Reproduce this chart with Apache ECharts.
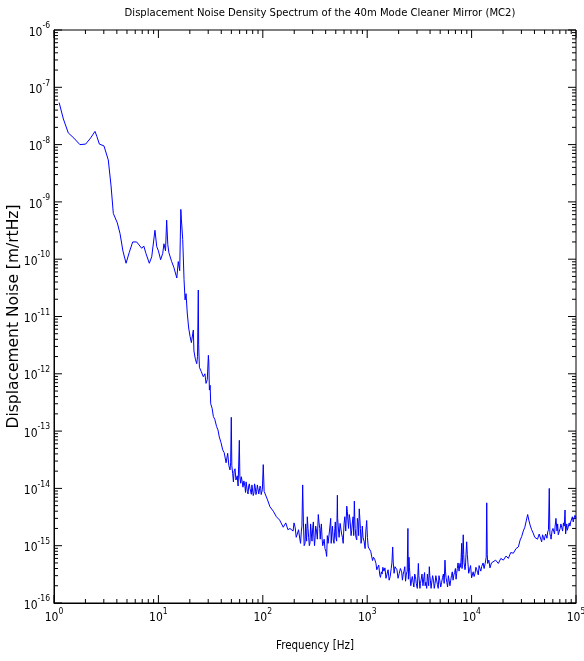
<!DOCTYPE html>
<html>
<head>
<meta charset="utf-8">
<script src="https://cdn.jsdelivr.net/npm/echarts@6/dist/echarts.min.js"></script>
<style>
  html, body { margin: 0; padding: 0; background: #fff; }
  #chart { width: 584px; height: 661px; }
</style>
</head>
<body>
<div id="chart"></div>
<script>
// 频率 (Hz) —— 主轮廓
const freqs = [
  1.12, 1.23, 1.37, 1.55, 1.77, 2.01, 2.24, 2.47, 2.57, 2.72,
  3.01, 3.31, 3.52, 3.70, 4.04, 4.29, 4.57, 4.90, 5.25, 5.67,
  6.19, 6.92, 7.24, 7.60, 8.18, 8.63, 9.27, 9.64, 10.0, 10.5,
  11.0, 11.3, 11.7, 12.0, 12.3, 12.6, 13.4, 14.1, 15.0, 15.5,
  16.0, 16.4, 16.6, 17.1, 17.6, 18.0, 18.4, 18.9, 19.5, 20.1,
  20.7, 21.6, 21.9, 22.6, 23.3, 23.7, 24.1, 24.3, 24.7, 25.7,
  26.9, 27.9, 28.6, 29.4, 30.1, 30.4, 30.8, 31.3, 31.7, 32.7,
  33.6, 34.7, 36.1, 37.2, 38.3, 39.8, 41.3, 42.7, 44.5, 46.1,
  47.3, 48.5, 49.2, 49.9, 50.5, 51.5, 53.1, 55.3, 56.9, 59.6,
  60.3, 61.4, 63.1, 64.6, 67.5, 69.2, 71.1, 73.3, 75.3, 77.6,
  79.8, 82.2, 84.7, 87.3, 90.2, 92.9, 95.5, 97.5, 101, 103,
  105, 111, 117, 126, 135, 145, 157, 166, 174, 182,
  195, 204, 214, 227, 234, 241, 245, 254, 260, 267,
  275, 283, 292, 301, 309, 316, 327, 340, 351, 359,
  370, 380, 394, 409, 422, 447, 457, 473, 490, 501,
  518, 525, 550, 569, 589, 610, 637, 653, 673, 692,
  711, 733, 753, 767, 794, 817, 839, 861, 885, 912,
  955, 989, 1023, 1059, 1104, 1148, 1213, 1259, 1318, 1365,
  1413, 1479, 1549, 1622, 1698, 1754, 1778, 1845, 1928, 2028,
  2138, 2213, 2291, 2371, 2455, 2512, 2570, 2661, 2754, 2851,
  2951, 3090, 3162, 3236, 3350, 3500, 3589, 3715, 3828, 3936,
  4027, 4150, 4315, 4467, 4624, 4786, 4955, 5164, 5370, 5559,
  5689, 5888, 6095, 6310, 6531, 6761, 6998, 7194, 7413, 7745,
  7943, 8035, 8166, 8318, 8472, 8650, 8810, 8974, 9226, 9550,
  10000, 10351, 10789, 11220, 11588, 12023, 12474, 12882, 13490, 13804,
  13964, 14125, 14256, 14622, 14997, 15488, 16144, 16982, 18030, 19055,
  20137, 21380, 22491, 23714, 25119, 26607, 28054, 29174, 30200, 31261,
  32359, 33497, 34435, 35318, 36308, 37584, 38905, 40272, 41976, 43652,
  45186, 46881, 48753, 50466, 51880, 53580, 55463, 56234, 57148, 58884,
  61518, 63096, 64269, 65766, 67608, 70469, 72946, 75858, 78524, 80353,
  82604, 86099, 88920, 92257, 95719, 100000
];

// 位移噪声 (m/rtHz) —— 主轮廓
const noise = [
  5.4e-8, 2.8e-8, 1.6e-8, 1.3e-8, 1.0e-8, 1.02e-8, 1.3e-8, 1.7e-8, 1.4e-8, 1.02e-8,
  9.5e-9, 5.4e-9, 1.9e-9, 6.3e-10, 4.3e-10, 2.8e-10, 1.4e-10, 8.5e-11, 1.3e-10, 2.0e-10,
  2.0e-10, 1.55e-10, 1.7e-10, 1.26e-10, 8.5e-11, 1.1e-10, 3.2e-10, 1.66e-10, 1.4e-10, 9.8e-11,
  1.26e-10, 1.86e-10, 1.4e-10, 4.8e-10, 1.8e-10, 1.3e-10, 9.1e-11, 7.1e-11, 4.7e-11, 9.1e-11,
  6.3e-11, 7.4e-10, 5.0e-10, 2.2e-10, 4.4e-11, 1.95e-11, 2.5e-11, 1.15e-11, 6.3e-12, 4.5e-12,
  3.5e-12, 5.8e-12, 2.5e-12, 1.8e-12, 1.5e-12, 2.0e-12, 2.9e-11, 3.2e-12, 1.3e-12, 1.1e-12,
  8.9e-13, 1.0e-12, 6.8e-13, 7.9e-13, 2.1e-12, 1.6e-12, 5.2e-13, 6.3e-13, 3.0e-13, 2.5e-13,
  1.8e-13, 1.6e-13, 1.2e-13, 1.05e-13, 7.9e-14, 6.3e-14, 4.7e-14, 4.2e-14, 2.8e-14, 4.1e-14,
  2.5e-14, 2.1e-14, 2.8e-14, 1.74e-13, 2.5e-14, 1.8e-14, 2.0e-14, 1.4e-14, 1.66e-14, 6.9e-14,
  1.6e-14, 1.23e-14, 1.4e-14, 1.05e-14, 1.07e-14, 1.3e-14, 8.9e-15, 1.1e-14, 1.0e-14, 7.9e-15,
  1.17e-14, 8.3e-15, 1.05e-14, 8.7e-15, 1.1e-14, 7.6e-15, 1.0e-14, 8.3e-15, 2.6e-14, 8.9e-15,
  8.3e-15, 6.3e-15, 4.8e-15, 4.0e-15, 3.2e-15, 2.8e-15, 2.1e-15, 2.5e-15, 1.9e-15, 2.0e-15,
  1.8e-15, 2.1e-15, 1.6e-15, 1.26e-15, 1.8e-15, 1.15e-14, 2.5e-15, 1.1e-15, 1.6e-15, 3.2e-15,
  1.4e-15, 1.1e-15, 1.6e-15, 2.1e-15, 1.4e-15, 1.26e-15, 1.8e-15, 3.5e-15, 2.0e-15, 1.86e-15,
  1.3e-15, 1.1e-15, 8.9e-16, 6.5e-16, 1.1e-15, 3.0e-15, 1.6e-15, 1.26e-15, 2.0e-15, 1.4e-15,
  7.6e-15, 2.5e-15, 2.45e-15, 1.6e-15, 1.1e-15, 3.2e-15, 4.9e-15, 2.8e-15, 3.5e-15, 2.2e-15,
  1.86e-15, 3.2e-15, 6.0e-15, 2.0e-15, 1.26e-15, 2.5e-15, 4.4e-15, 2.0e-15, 1.26e-15, 1.4e-15,
  8.9e-16, 2.75e-15, 9.5e-16, 1.0e-15, 7.4e-16, 6.3e-16, 4.9e-16, 4.0e-16, 3.1e-16, 3.5e-16,
  4.2e-16, 4.1e-16, 3.2e-16, 2.5e-16, 4.0e-16, 9.5e-16, 5.0e-16, 4.3e-16, 3.8e-16, 3.3e-16,
  3.5e-16, 3.2e-16, 4.3e-16, 3.2e-16, 2.0e-15, 6.3e-16, 2.9e-16, 2.5e-16, 2.3e-16, 3.2e-16,
  2.2e-16, 4.9e-16, 2.8e-16, 2.2e-16, 3.2e-16, 2.9e-16, 2.0e-16, 1.8e-16, 2.5e-16, 4.3e-16,
  2.5e-16, 1.9e-16, 2.5e-16, 2.2e-16, 2.8e-16, 1.8e-16, 2.5e-16, 2.3e-16, 3.2e-16, 5.6e-16,
  2.8e-16, 1.9e-16, 2.8e-16, 2.5e-16, 3.5e-16, 3.1e-16, 4.0e-16, 3.3e-16, 5.0e-16, 4.9e-16,
  6.3e-16, 1.1e-15, 5.0e-16, 1.55e-15, 5.0e-16, 3.8e-16, 6.3e-16, 1.17e-15, 5.0e-16, 3.8e-16,
  2.75e-16, 3.5e-16, 3.3e-16, 3.8e-16, 3.1e-16, 4.0e-16, 4.3e-16, 5.0e-16, 4.9e-16, 6.3e-16,
  5.6e-15, 7.1e-16, 4.9e-16, 5.6e-16, 4.1e-16, 5.0e-16, 5.2e-16, 5.6e-16, 4.9e-16, 6.0e-16,
  5.6e-16, 6.6e-16, 6.0e-16, 7.6e-16, 7.4e-16, 8.9e-16, 9.5e-16, 1.26e-15, 1.45e-15, 1.8e-15,
  2.1e-15, 2.8e-15, 3.5e-15, 2.8e-15, 2.3e-15, 1.9e-15, 1.66e-15, 1.4e-15, 1.45e-15, 1.26e-15,
  1.5e-15, 1.17e-15, 1.4e-15, 1.45e-15, 1.66e-15, 1.74e-15, 1.0e-14, 1.6e-15, 1.45e-15, 1.8e-15,
  1.86e-15, 2.2e-15, 3.0e-15, 1.8e-15, 1.55e-15, 2.0e-15, 2.1e-15, 2.5e-15, 4.2e-15, 1.9e-15,
  1.86e-15, 2.5e-15, 2.6e-15, 3.2e-15, 3.0e-15, 3.0e-15
];

// 细节噪声点 (Hz)
const detailFreqs = [
  52.3, 54.2, 58.0, 62.2, 65.9, 68.3, 70.1, 72.2, 74.3, 76.4,
  78.7, 81.0, 83.4, 86.0, 88.7, 91.5, 94.2, 96.5, 99.0,
  199, 209, 220, 230, 237, 249, 257, 263, 271, 279,
  287, 296, 305, 313, 321, 333, 345, 355, 364, 375,
  387, 402, 415, 435, 452, 465, 481, 495, 510, 521,
  538, 560, 579, 600, 623, 645, 663, 682, 701, 722,
  743, 760, 780, 805, 828, 850, 873, 898, 933, 970, 1005,
  1080, 1125, 1180, 1235, 1290, 1340, 1390, 1445, 1513, 1585,
  1660, 1725, 1810, 1885, 1975, 2080, 2175, 2250, 2330, 2415,
  2480, 2540, 2615, 2705, 2800, 2900, 3020, 3125, 3200, 3290,
  3420, 3545, 3650, 3770, 3880, 3980, 4090, 4230, 4390, 4545,
  4705, 4870, 5060, 5270, 5460, 5620, 5790, 5990, 6200, 6420,
  6645, 6880, 7100, 7300, 7580, 7850, 8100, 8400, 8730, 9100,
  9380, 9780, 10570, 11000, 11400, 11800, 12250, 12680, 13180,
  42800, 44400, 46000, 47800, 49600, 51200, 52700, 54500, 57700, 60200,
  62300, 66700, 69000, 71700, 74400, 77200, 79500, 81500, 84300, 87500,
  90500, 94000, 97800
];

// 细节噪声点 (m/rtHz)
const detailNoise = [
  1.3e-14, 2.2e-14, 1.1e-14, 1.6e-14, 1.35e-14, 8.5e-15, 1.25e-14, 8.0e-15, 1.2e-14, 9.0e-15,
  1.15e-14, 7.5e-15, 1.2e-14, 7.8e-15, 1.15e-14, 8.0e-15, 1.1e-14, 7.8e-15, 9.5e-15,
  2.5e-15, 1.4e-15, 1.9e-15, 1.1e-15, 2.2e-15, 1.0e-15, 2.4e-15, 1.2e-15, 2.0e-15, 1.0e-15,
  2.4e-15, 1.2e-15, 2.6e-15, 1.0e-15, 2.2e-15, 1.3e-15, 2.6e-15, 1.3e-15, 2.4e-15, 1.0e-15,
  1.3e-15, 8.0e-16, 1.5e-15, 1.8e-15, 1.1e-15, 2.2e-15, 1.1e-15, 2.6e-15, 1.2e-15, 3.0e-15,
  1.4e-15, 2.6e-15, 1.4e-15, 2.4e-15, 1.8e-15, 4.0e-15, 2.0e-15, 3.0e-15, 1.5e-15, 2.6e-15,
  1.5e-15, 3.2e-15, 1.4e-15, 3.0e-15, 1.5e-15, 3.0e-15, 1.1e-15, 2.2e-15, 1.2e-15, 1.8e-15, 1.4e-15,
  8.0e-16, 5.5e-16, 5.8e-16, 3.8e-16, 4.6e-16, 2.8e-16, 3.2e-16, 3.6e-16, 2.7e-16, 3.8e-16,
  2.9e-16, 5.0e-16, 3.3e-16, 4.6e-16, 2.7e-16, 4.0e-16, 2.5e-16, 3.6e-16, 2.4e-16, 3.6e-16,
  2.6e-16, 4.2e-16, 2.0e-16, 2.9e-16, 1.9e-16, 2.9e-16, 1.8e-16, 3.0e-16, 1.8e-16, 2.6e-16,
  2.0e-16, 3.4e-16, 2.3e-16, 3.2e-16, 2.0e-16, 3.0e-16, 1.8e-16, 3.0e-16, 1.8e-16, 3.0e-16,
  2.1e-16, 3.0e-16, 1.9e-16, 2.8e-16, 2.2e-16, 3.6e-16, 2.3e-16, 3.0e-16, 2.0e-16, 3.0e-16,
  2.5e-16, 3.4e-16, 2.6e-16, 4.0e-16, 3.6e-16, 4.2e-16, 4.0e-16, 7.0e-16, 4.3e-16, 7.0e-16,
  3.3e-16, 4.5e-16, 2.9e-16, 4.2e-16, 3.4e-16, 4.5e-16, 3.6e-16, 4.6e-16, 4.0e-16,
  1.3e-15, 1.6e-15, 1.3e-15, 1.55e-15, 1.25e-15, 1.6e-15, 1.35e-15, 1.9e-15, 1.3e-15, 2.0e-15,
  1.6e-15, 2.4e-15, 1.6e-15, 2.4e-15, 1.8e-15, 2.2e-15, 1.6e-15, 2.4e-15, 1.9e-15, 2.2e-15,
  2.4e-15, 2.6e-15, 3.4e-15
];

// 坐标轴范围
const xMin = 1, xMax = 1e5;
const yMin = 1e-16, yMax = 1e-6;

const narrowFont = "'DejaVu Sans Condensed', 'Liberation Sans Narrow', sans-serif";

// 合并两组点并按频率排序
const trace = freqs.map((f, i) => [f, noise[i]])
  .concat(detailFreqs.map((f, i) => [f, detailNoise[i]]))
  .sort((a, b) => a[0] - b[0]);

// 刻度 (主刻度 + 2..9 次刻度)
const xTicks = [];
for (let e = 0; e < 5; e++) {
  for (let m = 1; m <= 9; m++) xTicks.push([m * Math.pow(10, e), yMin, m === 1 ? 1 : 0]);
}
xTicks.push([xMax, yMin, 1]);
const yTicks = [];
for (let e = -16; e < -6; e++) {
  for (let m = 1; m <= 9; m++) yTicks.push([xMin, m * Math.pow(10, e), m === 1 ? 1 : 0]);
}
yTicks.push([xMin, yMax, 1]);

const chart = echarts.init(document.getElementById('chart'));

function supLabel(v) {
  const exp = Math.round(Math.log10(v));
  return '{b|10}{s|' + exp + '}';
}

const labelRich = {
  b: { fontSize: 12, fontFamily: narrowFont, color: '#000', verticalAlign: 'bottom' },
  s: { fontSize: 8.5, fontFamily: narrowFont, color: '#000', verticalAlign: 'bottom', padding: [0, 0, 8, 0] }
};

// 画四边的刻度线
function renderXTick(params, api) {
  const cs = params.coordSys;
  const x = api.coord([api.value(0), yMin])[0];
  const len = api.value(2) ? 8 : 4;
  const style = { stroke: '#000', lineWidth: 1 };
  return {
    type: 'group',
    children: [
      { type: 'line', shape: { x1: x, y1: cs.y + cs.height, x2: x, y2: cs.y + cs.height - len }, style },
      { type: 'line', shape: { x1: x, y1: cs.y, x2: x, y2: cs.y + len }, style }
    ]
  };
}

function renderYTick(params, api) {
  const cs = params.coordSys;
  const y = api.coord([xMin, api.value(1)])[1];
  const len = api.value(2) ? 8 : 4;
  const style = { stroke: '#000', lineWidth: 1 };
  return {
    type: 'group',
    children: [
      { type: 'line', shape: { x1: cs.x, y1: y, x2: cs.x + len, y2: y }, style },
      { type: 'line', shape: { x1: cs.x + cs.width, y1: y, x2: cs.x + cs.width - len, y2: y }, style }
    ]
  };
}

const option = {
  animation: false,
  backgroundColor: '#fff',
  title: {
    text: 'Displacement Noise Density Spectrum of the 40m Mode Cleaner Mirror (MC2)',
    left: 315,
    textAlign: 'center',
    top: 3,
    textStyle: { fontFamily: narrowFont, fontSize: 11.2, fontWeight: 'normal', color: '#000' }
  },
  grid: {
    left: 54, right: 8, top: 30, bottom: 58,
    containLabel: false,
    outerBoundsMode: 'none',
    show: true, borderColor: '#000', borderWidth: 1, backgroundColor: '#fff'
  },
  xAxis: {
    type: 'log',
    logBase: 10,
    min: xMin,
    max: xMax,
    name: 'Frequency [Hz]',
    nameLocation: 'middle',
    nameGap: 37,
    nameMoveOverlap: false,
    nameTextStyle: { fontFamily: narrowFont, fontSize: 11.5, color: '#000' },
    axisLine: { show: true, lineStyle: { color: '#000', width: 1 } },
    axisTick: { show: false },
    splitLine: { show: false },
    axisLabel: { margin: 4, interval: 0, formatter: supLabel, rich: labelRich }
  },
  yAxis: {
    type: 'log',
    logBase: 10,
    min: yMin,
    max: yMax,
    interval: 1,
    splitNumber: 10,
    name: 'Displacement Noise [m/rtHz]',
    nameLocation: 'middle',
    nameGap: 32,
    nameMoveOverlap: false,
    nameTextStyle: { fontFamily: "'DejaVu Sans', sans-serif", fontSize: 15.5, color: '#000' },
    axisLine: { show: true, lineStyle: { color: '#000', width: 1 } },
    axisTick: { show: false },
    splitLine: { show: false },
    axisLabel: { margin: 4, interval: 0, formatter: supLabel, rich: labelRich }
  },
  series: [
    {
      type: 'line',
      data: trace,
      showSymbol: false,
      lineStyle: { color: '#0000ff', width: 1 },
      itemStyle: { color: '#0000ff' },
      silent: true
    },
    {
      type: 'custom',
      data: xTicks,
      encode: { x: 0, y: 1 },
      renderItem: renderXTick,
      silent: true
    },
    {
      type: 'custom',
      data: yTicks,
      encode: { x: 0, y: 1 },
      renderItem: renderYTick,
      silent: true
    }
  ]
};

chart.setOption(option);
</script>
</body>
</html>
